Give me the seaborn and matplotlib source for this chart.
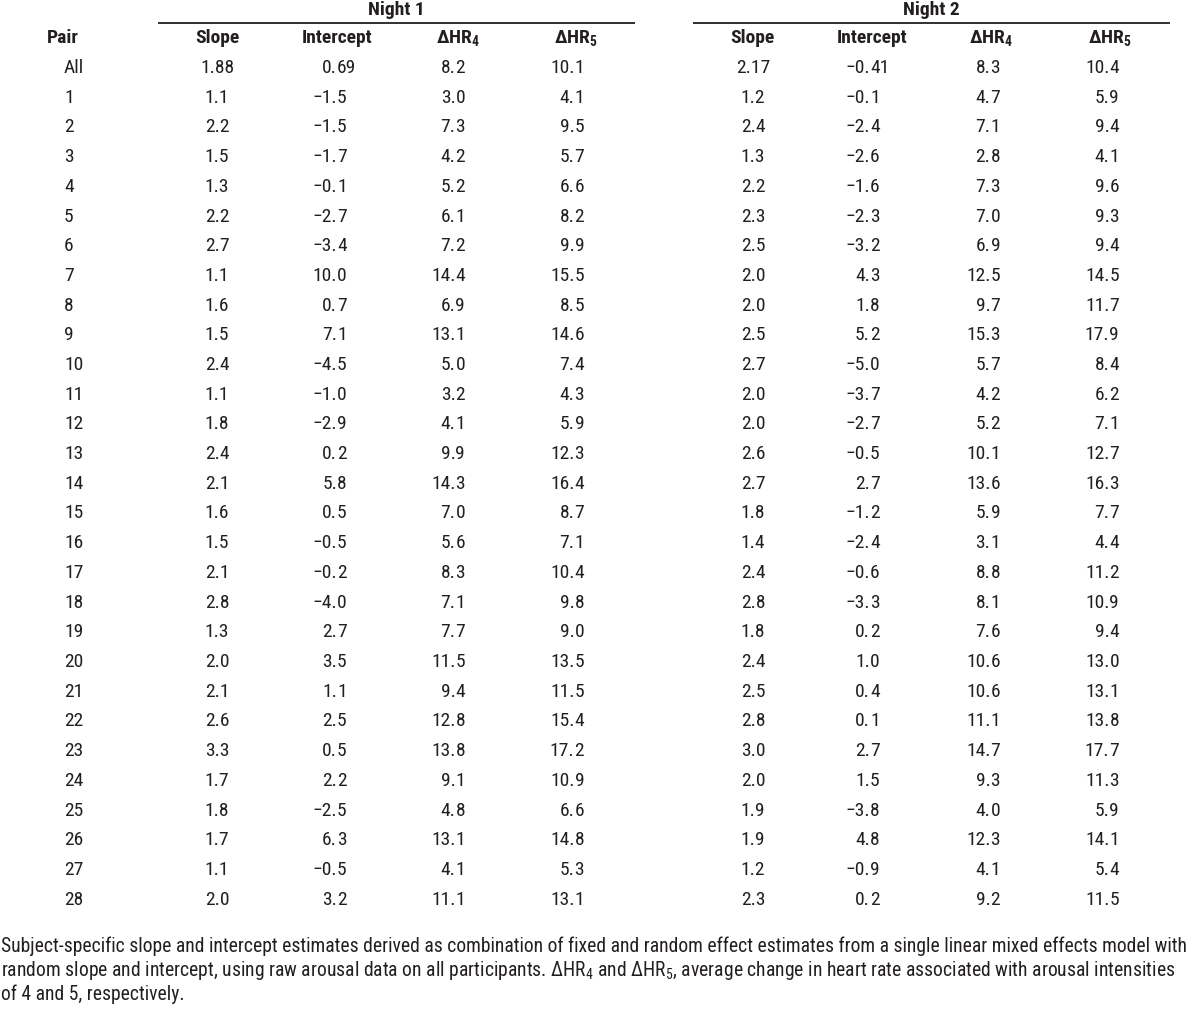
import numpy as np
import pandas as pd
import matplotlib
matplotlib.use('Agg')
import matplotlib.pyplot as plt
import seaborn as sns
from matplotlib import font_manager as fm

# Table values
pairs = ['All'] + [str(i) for i in range(1, 29)]

n1_slope = ['1.88', '1.1', '2.2', '1.5', '1.3', '2.2', '2.7', '1.1', '1.6', '1.5',
            '2.4', '1.1', '1.8', '2.4', '2.1', '1.6', '1.5', '2.1', '2.8', '1.3',
            '2.0', '2.1', '2.6', '3.3', '1.7', '1.8', '1.7', '1.1', '2.0']
n1_intercept = ['0.69', '−1.5', '−1.5', '−1.7', '−0.1', '−2.7', '−3.4', '10.0', '0.7', '7.1',
                '−4.5', '−1.0', '−2.9', '0.2', '5.8', '0.5', '−0.5', '−0.2', '−4.0', '2.7',
                '3.5', '1.1', '2.5', '0.5', '2.2', '−2.5', '6.3', '−0.5', '3.2']
n1_dhr4 = ['8.2', '3.0', '7.3', '4.2', '5.2', '6.1', '7.2', '14.4', '6.9', '13.1',
           '5.0', '3.2', '4.1', '9.9', '14.3', '7.0', '5.6', '8.3', '7.1', '7.7',
           '11.5', '9.4', '12.8', '13.8', '9.1', '4.8', '13.1', '4.1', '11.1']
n1_dhr5 = ['10.1', '4.1', '9.5', '5.7', '6.6', '8.2', '9.9', '15.5', '8.5', '14.6',
           '7.4', '4.3', '5.9', '12.3', '16.4', '8.7', '7.1', '10.4', '9.8', '9.0',
           '13.5', '11.5', '15.4', '17.2', '10.9', '6.6', '14.8', '5.3', '13.1']

n2_slope = ['2.17', '1.2', '2.4', '1.3', '2.2', '2.3', '2.5', '2.0', '2.0', '2.5',
            '2.7', '2.0', '2.0', '2.6', '2.7', '1.8', '1.4', '2.4', '2.8', '1.8',
            '2.4', '2.5', '2.8', '3.0', '2.0', '1.9', '1.9', '1.2', '2.3']
n2_intercept = ['−0.41', '−0.1', '−2.4', '−2.6', '−1.6', '−2.3', '−3.2', '4.3', '1.8', '5.2',
                '−5.0', '−3.7', '−2.7', '−0.5', '2.7', '−1.2', '−2.4', '−0.6', '−3.3', '0.2',
                '1.0', '0.4', '0.1', '2.7', '1.5', '−3.8', '4.8', '−0.9', '0.2']
n2_dhr4 = ['8.3', '4.7', '7.1', '2.8', '7.3', '7.0', '6.9', '12.5', '9.7', '15.3',
           '5.7', '4.2', '5.2', '10.1', '13.6', '5.9', '3.1', '8.8', '8.1', '7.6',
           '10.6', '10.6', '11.1', '14.7', '9.3', '4.0', '12.3', '4.1', '9.2']
n2_dhr5 = ['10.4', '5.9', '9.4', '4.1', '9.6', '9.3', '9.4', '14.5', '11.7', '17.9',
           '8.4', '6.2', '7.1', '12.7', '16.3', '7.7', '4.4', '11.2', '10.9', '9.4',
           '13.0', '13.1', '13.8', '17.7', '11.3', '5.9', '14.1', '5.4', '11.5']

nights = ['Night 1', 'Night 2']
col_labels = ['Slope', 'Intercept', r'ΔHR$_\mathbf{4}$', r'ΔHR$_\mathbf{5}$']

footnote = [
    'Subject-specific slope and intercept estimates derived as combination of fixed and random '
    'effect estimates from a single linear mixed effects model with',
    'random slope and intercept, using raw arousal data on all participants. ΔHR$_4$ and '
    'ΔHR$_5$, average change in heart rate associated with arousal intensities',
    'of 4 and 5, respectively.',
]

df = pd.DataFrame({'pair': pairs,
                   'n1_slope': n1_slope, 'n1_intercept': n1_intercept,
                   'n1_dhr4': n1_dhr4, 'n1_dhr5': n1_dhr5,
                   'n2_slope': n2_slope, 'n2_intercept': n2_intercept,
                   'n2_dhr4': n2_dhr4, 'n2_dhr5': n2_dhr5})

# Style: narrow grotesque close to the original Arial Narrow
sns.set_theme(style='white')
installed = {f.name for f in fm.fontManager.ttflist}
main_font = next((f for f in ['Roboto Condensed', 'Archivo Narrow', 'PT Sans Narrow',
                              'Liberation Sans'] if f in installed), 'DejaVu Sans')
plt.rcParams['font.family'] = [main_font, 'DejaVu Sans']
plt.rcParams['mathtext.fontset'] = 'custom'
plt.rcParams['mathtext.rm'] = main_font
plt.rcParams['mathtext.it'] = main_font
plt.rcParams['mathtext.bf'] = main_font + ':bold'

ink = '#231f20'
fs = 14

fig = plt.figure(figsize=(12, 10.14), dpi=100)
ax = fig.add_axes([0, 0, 1, 1])
ax.set_xlim(0, 1200)
ax.set_ylim(1014, 0)
ax.set_axis_off()

# Layout (pixel coordinates)
row0, row_step, head_y = 68, 29.7, 38
cols = [('n1_slope', 217, 'center'), ('n1_intercept', 337, 'dec'),
        ('n1_dhr4', 455.5, 'dec'), ('n1_dhr5', 574.5, 'dec'),
        ('n2_slope', 753, 'center'), ('n2_intercept', 870, 'dec'),
        ('n2_dhr4', 990.5, 'dec'), ('n2_dhr5', 1109.5, 'dec')]
head_x = [217, 337, 458, 576, 752, 872, 991, 1110]
night_spans = [(158, 635), (693, 1170)]

# Group headers and rules
for name, (x0, x1) in zip(nights, night_spans):
    ax.text((x0 + x1) / 2, 10, name, ha='center', va='center', fontsize=fs,
            fontweight='bold', color=ink)
    ax.plot([x0, x1], [23, 23], color=ink, lw=1.3, solid_capstyle='butt')

# Column headers
ax.text(63, head_y, 'Pair', ha='center', va='center', fontsize=fs,
        fontweight='bold', color=ink)
for i, x in enumerate(head_x):
    ax.text(x, head_y, col_labels[i % 4], ha='center', va='center', fontsize=fs,
            fontweight='bold', color=ink)

# Body
for r, row in df.iterrows():
    y = row0 + r * row_step
    ax.text(64, y, row['pair'], ha='left', va='center', fontsize=fs, color=ink)
    for key, x, mode in cols:
        s = row[key]
        if mode == 'center':
            ax.text(x, y, s, ha='center', va='center', fontsize=fs, color=ink)
        else:
            k = s.index('.')
            ax.text(x, y, s[:k + 1], ha='right', va='center', fontsize=fs, color=ink)
            ax.text(x, y, s[k + 1:], ha='left', va='center', fontsize=fs, color=ink)

# Footnote
for i, line in enumerate(footnote):
    ax.text(1, 946 + i * 24, line, ha='left', va='center', fontsize=14.1, color=ink)

fig.savefig('out.png', dpi=100)
